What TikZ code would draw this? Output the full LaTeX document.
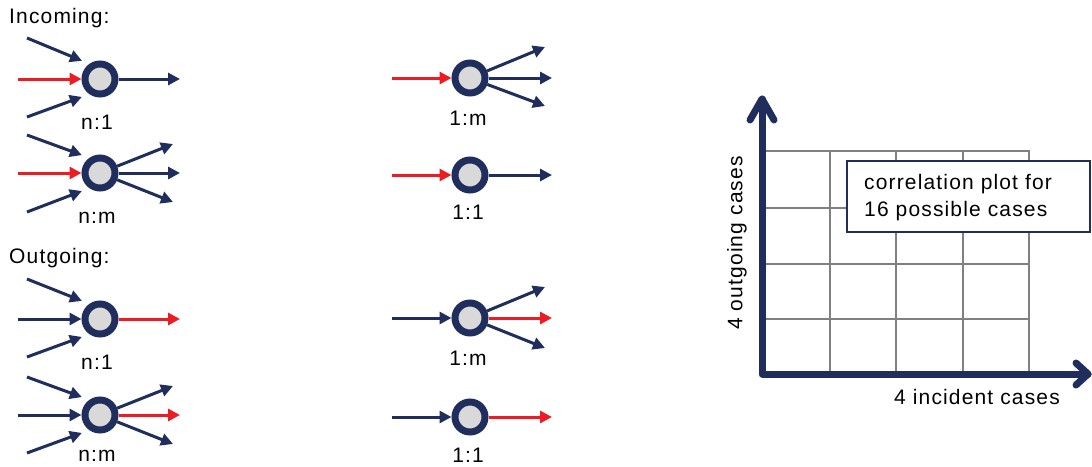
\documentclass[tikz,border=0pt]{standalone}
\usepackage{fontspec}
\setmainfont{Liberation Sans}[LetterSpace=5.5]
\usetikzlibrary{arrows.meta}
\definecolor{navy}{RGB}{31,46,92}
\definecolor{hotred}{RGB}{237,28,36}
\definecolor{nodegrey}{RGB}{217,217,217}
\definecolor{gridgrey}{RGB}{128,128,128}
\pgfdeclarelayer{bg}
\pgfsetlayers{bg,main}
\begin{document}
\begin{tikzpicture}[x=1pt,y=-1pt,
  font=\fontsize{21}{25}\selectfont,
  vert/.style={circle,draw=navy,fill=nodegrey,line width=7pt,minimum size=30pt,inner sep=0pt},
  arr/.style={line width=3pt,-{Triangle[length=12pt,width=12pt]}},
  nav/.style={arr,draw=navy,fill=navy},
  hot/.style={arr,draw=hotred,fill=hotred},
  sl/.style={shorten >=8pt},
  lab/.style={inner sep=0pt},
  head/.style={anchor=west,inner sep=0pt},
  gridline/.style={draw=gridgrey,line width=1.8pt},
  axis/.style={draw=navy,line width=7pt,line cap=round,line join=round},
  plotbox/.style={draw=navy,line width=1.3pt,fill=white,minimum width=243pt,minimum height=71pt,inner sep=0pt}
]
\useasboundingbox (0,0) rectangle (1092,466);

% headings
\node[head] (hin) at (9,18) {Incoming:};
\node[head] (hout) at (9,258) {Outgoing:};

% ---------- nodes ----------
\node[vert] (A) at (100,79) {};
\node[lab] (Alab) at (97,122) {n:1};
\node[vert] (B) at (100,173) {};
\node[lab] (Blab) at (97,218) {n:m};
\node[vert] (C) at (470,78) {};
\node[lab] (Clab) at (468,118) {1:m};
\node[vert] (D) at (470,175) {};
\node[lab] (Dlab) at (468,212) {1:1};
\node[vert] (E) at (100,319) {};
\node[lab] (Elab) at (97,362) {n:1};
\node[vert] (F) at (100,415) {};
\node[lab] (Flab) at (97,456) {n:m};
\node[vert] (G) at (470,318) {};
\node[lab] (Glab) at (468,358) {1:m};
\node[vert] (H) at (470,417) {};
\node[lab] (Hlab) at (468,455) {1:1};

% ---------- free ends ----------
\coordinate (A1) at (27,38);  \coordinate (A2) at (18,79);  \coordinate (A3) at (27,117); \coordinate (A4) at (180,79);
\coordinate (B1) at (27,135); \coordinate (B2) at (18,173); \coordinate (B3) at (27,212);
\coordinate (B4) at (173,144); \coordinate (B5) at (180,173); \coordinate (B6) at (173,202);
\coordinate (C1) at (392,78); \coordinate (C2) at (545,47); \coordinate (C3) at (552,78); \coordinate (C4) at (545,106);
\coordinate (D1) at (392,175); \coordinate (D2) at (552,175);
\coordinate (E1) at (27,279); \coordinate (E2) at (18,319); \coordinate (E3) at (27,357); \coordinate (E4) at (180,319);
\coordinate (F1) at (27,377); \coordinate (F2) at (18,415); \coordinate (F3) at (27,453);
\coordinate (F4) at (173,386); \coordinate (F5) at (180,415); \coordinate (F6) at (173,444);
\coordinate (G1) at (392,318); \coordinate (G2) at (545,287); \coordinate (G3) at (552,318); \coordinate (G4) at (545,348);
\coordinate (H1) at (392,417); \coordinate (H2) at (552,417);

\begin{pgfonlayer}{bg}
% incoming n:1
\draw[nav,sl] (A1) -- (A.125);
\draw[hot] (A2) -- (A);
\draw[nav,sl] (A3) -- (A.235);
\draw[nav] (A) -- (A4);
% incoming n:m
\draw[nav,sl] (B1) -- (B.125);
\draw[hot] (B2) -- (B);
\draw[nav,sl] (B3) -- (B.235);
\draw[nav] (B) -- (B4);
\draw[nav] (B) -- (B5);
\draw[nav] (B) -- (B6);
% incoming 1:m
\draw[hot] (C1) -- (C);
\draw[nav] (C) -- (C2);
\draw[nav] (C) -- (C3);
\draw[nav] (C) -- (C4);
% incoming 1:1
\draw[hot] (D1) -- (D);
\draw[nav] (D) -- (D2);
% outgoing n:1
\draw[nav,sl] (E1) -- (E.125);
\draw[nav] (E2) -- (E);
\draw[nav,sl] (E3) -- (E.235);
\draw[hot] (E) -- (E4);
% outgoing n:m
\draw[nav,sl] (F1) -- (F.125);
\draw[nav] (F2) -- (F);
\draw[nav,sl] (F3) -- (F.235);
\draw[nav] (F) -- (F4);
\draw[hot] (F) -- (F5);
\draw[nav] (F) -- (F6);
% outgoing 1:m
\draw[nav] (G1) -- (G);
\draw[nav] (G) -- (G2);
\draw[hot] (G) -- (G3);
\draw[nav] (G) -- (G4);
% outgoing 1:1
\draw[nav] (H1) -- (H);
\draw[hot] (H) -- (H2);
\end{pgfonlayer}

% ---------- correlation plot ----------
\foreach \yy in {151,208,264,319} \draw[gridline] (762,\yy) -- (1030,\yy);
\foreach \xx in {830,896,963,1029} \draw[gridline] (\xx,151) -- (\xx,374);
\draw[axis] (762,99) -- (762,374) -- (1088,374);
\draw[axis] (750,120) -- (762,99) -- (774,120);
\draw[axis] (1076,363) -- (1088,374) -- (1076,385);
\node[plotbox] (box) at (968.5,196.5) {};
\node[anchor=west,inner sep=0pt,align=left] (boxtxt) at (864,198)
  {correlation plot for\\[2pt]16 possible cases};
\node[inner sep=0pt] (xlab) at (977,397) {4 incident cases};
\node[inner sep=0pt,rotate=90] (ylab) at (737,243) {4 outgoing cases};
\end{tikzpicture}
\end{document}
